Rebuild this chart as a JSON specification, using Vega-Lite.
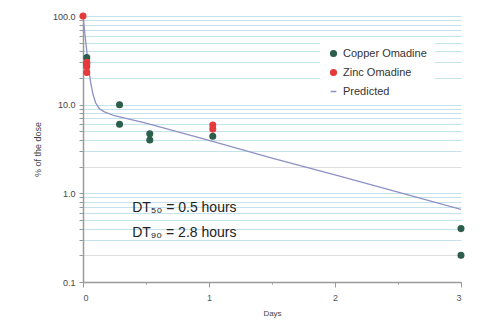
{
  "$schema": "https://vega.github.io/schema/vega-lite/v6.json",
  "width": 378,
  "height": 266,
  "autosize": "none",
  "padding": {"left": 83, "top": 16, "right": 19, "bottom": 40},
  "background": "white",
  "config": {
    "view": {"stroke": null},
    "font": "Liberation Sans",
    "legend": {
      "title": null,
      "orient": "none",
      "legendX": 237,
      "legendY": 24,
      "fillColor": "white",
      "padding": 8,
      "labelFontSize": 11,
      "labelColor": "#333",
      "symbolSize": 32,
      "rowPadding": 6,
      "labelOffset": 4
    }
  },
  "datasets": {
    "obs": [
      {"day": 0.03, "pct": 34, "series": "Copper Omadine"},
      {"day": 0.03, "pct": 29, "series": "Copper Omadine"},
      {"day": 0.29, "pct": 10, "series": "Copper Omadine"},
      {"day": 0.29, "pct": 6.0, "series": "Copper Omadine"},
      {"day": 0.53, "pct": 4.7, "series": "Copper Omadine"},
      {"day": 0.53, "pct": 4.0, "series": "Copper Omadine"},
      {"day": 1.03, "pct": 4.4, "series": "Copper Omadine"},
      {"day": 3.0, "pct": 0.40, "series": "Copper Omadine"},
      {"day": 3.0, "pct": 0.20, "series": "Copper Omadine"},
      {"day": 0.0, "pct": 100, "series": "Zinc Omadine"},
      {"day": 0.03, "pct": 30, "series": "Zinc Omadine"},
      {"day": 0.03, "pct": 27, "series": "Zinc Omadine"},
      {"day": 0.03, "pct": 23, "series": "Zinc Omadine"},
      {"day": 1.03, "pct": 5.9, "series": "Zinc Omadine"},
      {"day": 1.03, "pct": 5.3, "series": "Zinc Omadine"}
    ],
    "pred": [
      {"day": 0.0, "pct": 100},
      {"day": 0.01, "pct": 73},
      {"day": 0.02, "pct": 54},
      {"day": 0.03, "pct": 40},
      {"day": 0.04, "pct": 30},
      {"day": 0.05, "pct": 23},
      {"day": 0.06, "pct": 18},
      {"day": 0.08, "pct": 13},
      {"day": 0.1, "pct": 10.5},
      {"day": 0.13, "pct": 9.0},
      {"day": 0.17, "pct": 8.3},
      {"day": 0.25, "pct": 7.5},
      {"day": 0.5, "pct": 6.2},
      {"day": 1.0, "pct": 3.95},
      {"day": 1.5, "pct": 2.5},
      {"day": 2.0, "pct": 1.62},
      {"day": 2.5, "pct": 1.03},
      {"day": 3.0, "pct": 0.66}
    ],
    "notes": [
      {"day": 0.39, "pct": 0.68, "label": "DT₅₀ = 0.5 hours"},
      {"day": 0.39, "pct": 0.355, "label": "DT₉₀ = 2.8 hours"}
    ]
  },
  "layer": [
    {
      "data": {"name": "pred"},
      "mark": {"type": "line", "color": "#8d91c4", "strokeWidth": 1.3, "clip": true},
      "encoding": {
        "x": {
          "field": "day", "type": "quantitative",
          "scale": {"domain": [0, 3], "nice": false, "zero": false},
          "axis": {
            "title": "Days",
            "values": [0, 0.5, 1, 1.5, 2, 2.5, 3],
            "labelExpr": "datum.value % 1 == 0 ? format(datum.value, 'd') : ''",
            "grid": false,
            "domainColor": "#9a9a9a", "domainWidth": 1.5,
            "tickColor": "#9a9a9a", "tickWidth": 1,
            "tickSize": {"condition": {"test": "datum.value % 1 == 0", "value": 5}, "value": 2},
            "labelFontSize": 9, "labelColor": "#555", "labelPadding": 6,
            "titleFontSize": 8, "titleFontWeight": "normal", "titleColor": "#444", "titlePadding": 7
          }
        },
        "y": {
          "field": "pct", "type": "quantitative",
          "scale": {"type": "log", "domain": [0.1, 100], "nice": false},
          "axis": {
            "title": "% of the dose",
            "values": [0.1, 0.2, 0.3, 0.4, 0.5, 0.6, 0.7, 0.8, 0.9, 1, 2, 3, 4, 5, 6, 7, 8, 9, 10, 20, 30, 40, 50, 60, 70, 80, 90, 100],
            "labelExpr": "indexof([0.1, 1, 10, 100], datum.value) >= 0 ? format(datum.value, '.1f') : ''",
            "grid": true,
            "gridColor": {"condition": {"test": "datum.value == 2 || datum.value == 0.2", "value": "#dedede"}, "value": "#c4e2eb"},
            "gridWidth": 1,
            "domainColor": "#9a9a9a", "domainWidth": 1.5,
            "tickColor": "#9a9a9a", "tickSize": 4,
            "labelFontSize": 9, "labelColor": "#444", "labelPadding": 4,
            "titleFontSize": 9, "titleFontWeight": "normal", "titleColor": "#444", "titlePadding": 10
          }
        }
      }
    },
    {
      "mark": {"type": "rect", "color": "white"},
      "encoding": {
        "x": {"datum": 0.35, "type": "quantitative"},
        "x2": {"datum": 1.37},
        "y": {"datum": 0.97, "type": "quantitative"},
        "y2": {"datum": 0.265}
      }
    },
    {
      "data": {"name": "obs"},
      "mark": {"type": "point", "filled": false, "size": 32, "strokeWidth": 1.4, "opacity": 1, "fillOpacity": 1, "clip": false},
      "encoding": {
        "x": {"field": "day", "type": "quantitative"},
        "y": {"field": "pct", "type": "quantitative"},
        "fill": {
          "field": "series", "type": "nominal",
          "scale": {"domain": ["Copper Omadine", "Zinc Omadine", "Predicted"], "range": ["#2d5e4c", "#e53a3c", "#8d91c4"]}
        },
        "stroke": {
          "field": "series", "type": "nominal",
          "scale": {"domain": ["Copper Omadine", "Zinc Omadine", "Predicted"], "range": ["#2d5e4c", "#e53a3c", "#8d91c4"]}
        },
        "shape": {
          "field": "series", "type": "nominal",
          "scale": {"domain": ["Copper Omadine", "Zinc Omadine", "Predicted"], "range": ["circle", "circle", "stroke"]}
        }
      }
    },
    {
      "data": {"name": "notes"},
      "mark": {"type": "text", "align": "left", "baseline": "middle", "fontSize": 14, "color": "#222"},
      "encoding": {
        "x": {"field": "day", "type": "quantitative"},
        "y": {"field": "pct", "type": "quantitative"},
        "text": {"field": "label"}
      }
    }
  ]
}
